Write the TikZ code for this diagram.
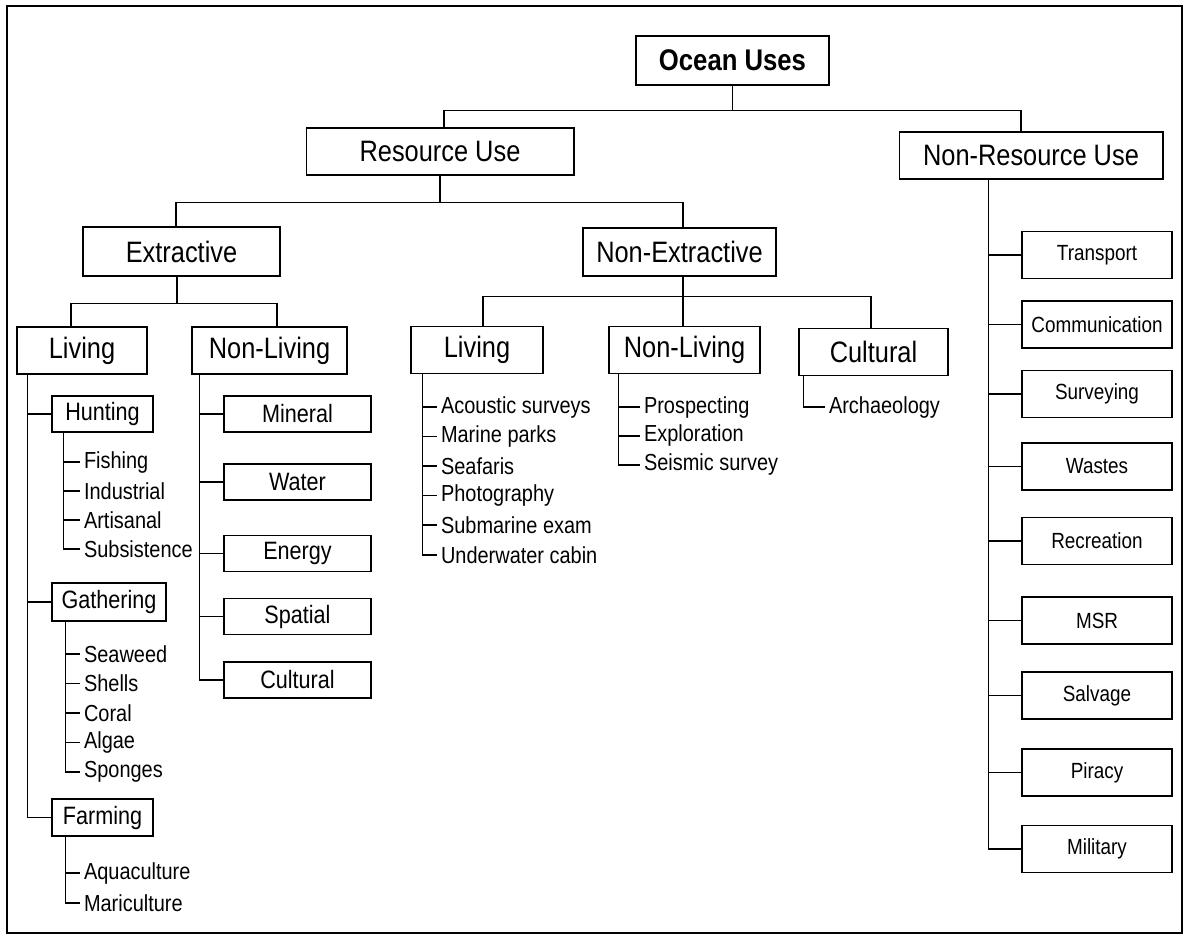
\documentclass[tikz,border=0pt]{standalone}
\usepackage{fontspec}
\setmainfont[FakeStretch=0.86]{Liberation Sans}
\usepackage{tikz}
\usetikzlibrary{positioning}

\begin{document}
\begin{tikzpicture}[x=0.02cm,y=-0.02cm,on grid,line width=0.6pt,
   box/.style={draw,rectangle,inner sep=0pt,minimum height=0.94cm,font=\fontsize{16.8}{20}\selectfont},
   sbox/.style={draw,rectangle,inner sep=0pt,minimum height=0.72cm,font=\fontsize{14.3}{17}\selectfont},
   rbox/.style={draw,rectangle,inner sep=0pt,minimum width=3cm,minimum height=0.94cm,font=\fontsize{12.5}{15}\selectfont},
   item/.style={anchor=west,inner sep=2pt,font=\fontsize{13.2}{15}\selectfont}]
   \useasboundingbox (0,0) rectangle (1187,937);
   \draw[line width=1.1pt] (7,6) rectangle (1182,933);
   % top levels
   \node[box,font=\fontsize{17}{20}\selectfont\bfseries,minimum width=3.86cm,minimum height=0.98cm] (ocean) at (732.5,60.5) {Ocean Uses};
   \node[box,minimum width=5.36cm] (res) at (440,151.5) {Resource Use};
   \node[box,minimum width=5.28cm] (nonres) at (1031,155.5) {Non-Resource Use};
   \node[box,minimum width=3.94cm,minimum height=0.98cm] (extr) at (181.5,251.5) {Extractive};
   \node[box,minimum width=3.86cm,minimum height=0.96cm] (nonextr) at (679.5,252) {Non-Extractive};
   \node[box,minimum width=2.6cm] (eliv) at (82,350.5) {Living};
   \node[box,minimum width=3.1cm] (enonliv) at (269.5,350.5) {Non-Living};
   \node[box,minimum width=2.64cm] (nliv) at (477,350) {Living};
   \node[box,minimum width=3.02cm] (nnonliv) at (684.5,350) {Non-Living};
   \node[box,minimum width=2.98cm] (ncult) at (873.5,352) {Cultural};
   % extractive, living
   \node[sbox,minimum width=2.02cm] (hunt) at (102.5,414) {Hunting};
   \node[item] (fish) at (80,462) {Fishing};
   \node[below=0.58cm of fish.west,item] (indu) {Industrial};
   \node[below=0.58cm of indu.west,item] (arti) {Artisanal};
   \node[below=0.58cm of arti.west,item] (subs) {Subsistence};
   \node[sbox,minimum width=2.28cm,minimum height=0.76cm] (gath) at (109,602) {Gathering};
   \node[item] (weed) at (80,654) {Seaweed};
   \node[below=0.59cm of weed.west,item] (shell) {Shells};
   \node[below=0.59cm of shell.west,item] (coral) {Coral};
   \node[below=0.59cm of coral.west,item] (algae) {Algae};
   \node[below=0.59cm of algae.west,item] (spong) {Sponges};
   \node[sbox,minimum width=2.02cm,minimum height=0.74cm] (farm) at (102.5,817.5) {Farming};
   \node[item] (aqua) at (80,873) {Aquaculture};
   \node[below=0.6cm of aqua.west,item] (mari) {Mariculture};
   % extractive, non-living
   \node[sbox,minimum width=2.94cm] (mine) at (297.5,414) {Mineral};
   \node[sbox,minimum width=2.94cm] (water) at (297.5,482) {Water};
   \node[sbox,minimum width=2.94cm] (energy) at (297.5,553.5) {Energy};
   \node[sbox,minimum width=2.94cm] (spat) at (297.5,616.5) {Spatial};
   \node[sbox,minimum width=2.94cm] (ecult) at (297.5,680) {Cultural};
   % non-extractive
   \node[item] (acou) at (437,407) {Acoustic surveys};
   \node[below=0.59cm of acou.west,item] (park) {Marine parks};
   \node[below=0.59cm of park.west,item] (safari) {Seafaris};
   \node[below=0.59cm of safari.west,item] (photo) {Photography};
   \node[below=0.59cm of photo.west,item] (subm) {Submarine exam};
   \node[below=0.6cm of subm.west,item] (cabin) {Underwater cabin};
   \node[item] (prosp) at (640,407) {Prospecting};
   \node[below=0.58cm of prosp.west,item] (explo) {Exploration};
   \node[below=0.58cm of explo.west,item] (seism) {Seismic survey};
   \node[item] (arch) at (825,407) {Archaeology};
   % non-resource use
   \node[rbox] (trans) at (1097,255) {Transport};
   \node[rbox] (comm) at (1097,324.5) {Communication};
   \node[rbox] (surv) at (1097,394) {Surveying};
   \node[rbox] (waste) at (1097,466.5) {Wastes};
   \node[rbox] (recr) at (1097,541) {Recreation};
   \node[rbox] (msr) at (1097,620.5) {MSR};
   \node[rbox] (salv) at (1097,695.5) {Salvage};
   \node[rbox] (pira) at (1097,772.5) {Piracy};
   \node[rbox] (mili) at (1097,849) {Military};

   % connectors
   \draw (ocean.south) -- ++(0,25) -| ([xshift=0.08cm]res.north);
   \draw (ocean.south) -- ++(0,25) -| ([xshift=-0.2cm]nonres.north);
   \draw (res.south) -- ++(0,27) -| ([xshift=-0.11cm]extr.north);
   \draw (res.south) -- ++(0,27) -| ([xshift=0.07cm]nonextr.north);
   \draw ([xshift=-0.09cm]extr.south) -- ++(0,27) -| ([xshift=-0.22cm]eliv.north);
   \draw ([xshift=-0.09cm]extr.south) -- ++(0,27) -| ([xshift=0.15cm]enonliv.north);
   \draw ([xshift=0.07cm]nonextr.south) -- ++(0,20) -| ([xshift=0.12cm]nliv.north);
   \draw ([xshift=0.07cm]nonextr.south) -- ++(0,20) -| ([xshift=-0.03cm]nnonliv.north);
   \draw ([xshift=0.07cm]nonextr.south) -- ++(0,20) -| ([xshift=-0.05cm]ncult.north);

   \draw ([xshift=0.22cm]eliv.south west) |- (hunt.west);
   \draw ([xshift=0.22cm]eliv.south west) |- (gath.west);
   \draw ([xshift=0.22cm]eliv.south west) |- (farm.west);
   \draw ([xshift=0.24cm]hunt.south west) |- (fish.west);
   \draw ([xshift=0.24cm]hunt.south west) |- (indu.west);
   \draw ([xshift=0.24cm]hunt.south west) |- (arti.west);
   \draw ([xshift=0.24cm]hunt.south west) |- (subs.west);
   \draw ([xshift=0.28cm]gath.south west) |- (weed.west);
   \draw ([xshift=0.28cm]gath.south west) |- (shell.west);
   \draw ([xshift=0.28cm]gath.south west) |- (coral.west);
   \draw ([xshift=0.28cm]gath.south west) |- (algae.west);
   \draw ([xshift=0.28cm]gath.south west) |- (spong.west);
   \draw ([xshift=0.28cm]farm.south west) |- (aqua.west);
   \draw ([xshift=0.28cm]farm.south west) |- (mari.west);

   \draw ([xshift=0.16cm]enonliv.south west) |- (mine.west);
   \draw ([xshift=0.16cm]enonliv.south west) |- (water.west);
   \draw ([xshift=0.16cm]enonliv.south west) |- (energy.west);
   \draw ([xshift=0.16cm]enonliv.south west) |- (spat.west);
   \draw ([xshift=0.16cm]enonliv.south west) |- (ecult.west);

   \draw ([xshift=0.24cm]nliv.south west) |- (acou.west);
   \draw ([xshift=0.24cm]nliv.south west) |- (park.west);
   \draw ([xshift=0.24cm]nliv.south west) |- (safari.west);
   \draw ([xshift=0.24cm]nliv.south west) |- (photo.west);
   \draw ([xshift=0.24cm]nliv.south west) |- (subm.west);
   \draw ([xshift=0.24cm]nliv.south west) |- (cabin.west);
   \draw ([xshift=0.2cm]nnonliv.south west) |- (prosp.west);
   \draw ([xshift=0.2cm]nnonliv.south west) |- (explo.west);
   \draw ([xshift=0.2cm]nnonliv.south west) |- (seism.west);
   \draw ([xshift=0.1cm]ncult.south west) |- (arch.west);

   \draw ([xshift=1.8cm]nonres.south west) |- (trans.west);
   \draw ([xshift=1.8cm]nonres.south west) |- (comm.west);
   \draw ([xshift=1.8cm]nonres.south west) |- (surv.west);
   \draw ([xshift=1.8cm]nonres.south west) |- (waste.west);
   \draw ([xshift=1.8cm]nonres.south west) |- (recr.west);
   \draw ([xshift=1.8cm]nonres.south west) |- (msr.west);
   \draw ([xshift=1.8cm]nonres.south west) |- (salv.west);
   \draw ([xshift=1.8cm]nonres.south west) |- (pira.west);
   \draw ([xshift=1.8cm]nonres.south west) |- (mili.west);
\end{tikzpicture}
\end{document}
